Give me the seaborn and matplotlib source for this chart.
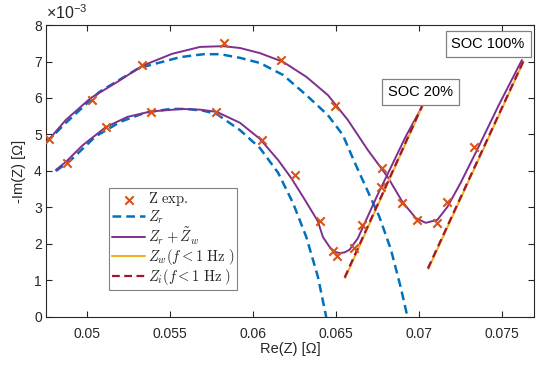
import matplotlib
matplotlib.use("Agg")
import matplotlib.pyplot as plt
import seaborn as sns

# ---------------- data (Re in Ohm, -Im in mOhm) ----------------
# measured points
exp100_re = [0.04768, 0.05027, 0.05328, 0.05822, 0.0617, 0.0649, 0.06778, 0.0690, 0.0699, 0.0711, 0.0717, 0.0733]
exp100_im = [4.87, 5.95, 6.90, 7.51, 7.04, 5.78, 4.08, 3.12, 2.66, 2.58, 3.15, 4.66]
exp20_re = [0.04874, 0.05109, 0.05381, 0.05773, 0.0605, 0.0625, 0.0640, 0.06479, 0.06503, 0.06608, 0.06657, 0.06771]
exp20_im = [4.21, 5.21, 5.63, 5.63, 4.85, 3.90, 2.63, 1.81, 1.67, 1.89, 2.52, 3.56]

# Z_r (dashed blue)
zr100_re = [0.0475, 0.0487, 0.0507, 0.0531, 0.0556, 0.0570, 0.0580, 0.0592, 0.0604, 0.0618, 0.0632, 0.0645,
            0.0654, 0.0661, 0.0668, 0.0676, 0.0683, 0.0689, 0.0693]
zr100_im = [4.77, 5.32, 6.16, 6.82, 7.12, 7.20, 7.20, 7.10, 6.96, 6.63, 6.08, 5.53,
            4.99, 4.25, 3.55, 2.75, 1.85, 0.80, 0.0]
zr20_re = [0.0481, 0.0490, 0.0505, 0.0520, 0.0535, 0.0550, 0.0560, 0.0570, 0.0578, 0.0592, 0.0604, 0.0615,
           0.0624, 0.0632, 0.0639, 0.0644]
zr20_im = [4.00, 4.30, 4.95, 5.35, 5.60, 5.70, 5.70, 5.65, 5.56, 5.12, 4.63, 3.95,
           3.12, 2.19, 1.10, 0.0]

# Z_r + Z_w fit (purple)
fit100_re = [0.0475, 0.0487, 0.0502, 0.0518, 0.0533, 0.0551, 0.0568, 0.0582, 0.0592, 0.0604, 0.0618, 0.0632,
             0.0645, 0.0657, 0.0669, 0.0681, 0.0690, 0.0698, 0.0704, 0.0711, 0.0717, 0.0725, 0.0735, 0.0748, 0.0762]
fit100_im = [4.77, 5.40, 6.00, 6.44, 6.88, 7.21, 7.40, 7.42, 7.37, 7.23, 6.99, 6.58,
             6.08, 5.40, 4.58, 3.84, 3.15, 2.71, 2.58, 2.66, 3.01, 3.67, 4.58, 5.80, 7.04]
fit20_re = [0.0481, 0.0487, 0.0497, 0.0511, 0.0524, 0.0538, 0.0557, 0.0568, 0.0578, 0.0592, 0.0604, 0.0615,
            0.0623, 0.0631, 0.0639, 0.0642, 0.0646, 0.0649, 0.0652, 0.0655, 0.0658, 0.0663, 0.0668, 0.0675,
            0.0683, 0.0692, 0.0702]
fit20_im = [4.03, 4.25, 4.70, 5.20, 5.48, 5.63, 5.70, 5.68, 5.62, 5.32, 4.88, 4.30,
            3.80, 3.22, 2.62, 2.19, 1.92, 1.79, 1.75, 1.77, 1.84, 2.15, 2.65, 3.35,
            4.10, 4.95, 5.78]

# low-frequency lines Z_w and Z_i
zw20_re = [0.06554, 0.0702]
zw20_im = [1.07, 5.78]
zw100_re = [0.07056, 0.0763]
zw100_im = [1.32, 7.00]
zi20_re = [0.06551, 0.07018]
zi20_im = [1.08, 5.78]
zi100_re = [0.07053, 0.07628]
zi100_im = [1.33, 7.00]

x_ticks = [0.05, 0.055, 0.06, 0.065, 0.07, 0.075]
x_tick_labels = ["0.05", "0.055", "0.06", "0.065", "0.07", "0.075"]
y_ticks = [0, 1, 2, 3, 4, 5, 6, 7, 8]
y_tick_labels = ["0", "1", "2", "3", "4", "5", "6", "7", "8"]

# ---------------- style ----------------
sns.set_theme(style="ticks")
plt.rcParams["font.family"] = ["Liberation Sans", "DejaVu Sans"]
plt.rcParams["mathtext.fontset"] = "cm"

C_BLUE = "#0072BD"
C_ORANGE = "#D95319"
C_YELLOW = "#EDB120"
C_PURPLE = "#7E2F8E"
C_RED = "#A2142F"
AX_COL = "#262626"

fig = plt.figure(figsize=(5.5, 3.71), dpi=100)
ax = fig.add_axes([0.0836, 0.1456, 0.8873, 0.787])

def line(xv, yv, **kw):
    sns.lineplot(x=xv, y=yv, ax=ax, sort=False, estimator=None, **kw)

dash_kw = dict(dashes=(3.5, 2.0))

# Z_r
line(zr100_re, zr100_im, color=C_BLUE, lw=1.8, label="$Z_r$", zorder=2, **dash_kw)
line(zr20_re, zr20_im, color=C_BLUE, lw=1.8, zorder=2, **dash_kw)
# fit
line(fit100_re, fit100_im, color=C_PURPLE, lw=1.4, label=r"$Z_r+\tilde{Z}_w$", zorder=3)
line(fit20_re, fit20_im, color=C_PURPLE, lw=1.4, zorder=3)
# Z_w
line(zw100_re, zw100_im, color=C_YELLOW, lw=1.5, label=r"$Z_w(f<1\ \mathrm{Hz}\ )$", zorder=4)
line(zw20_re, zw20_im, color=C_YELLOW, lw=1.5, zorder=4)
# Z_i
line(zi100_re, zi100_im, color=C_RED, lw=1.6, label=r"$Z_i(f<1\ \mathrm{Hz}\ )$", zorder=5, **dash_kw)
line(zi20_re, zi20_im, color=C_RED, lw=1.6, zorder=5, **dash_kw)
# measured
sns.scatterplot(x=exp100_re, y=exp100_im, ax=ax, marker="x", color=C_ORANGE, s=36,
                linewidth=1.5, label=r"$\mathrm{Z\ exp.}$", zorder=6)
sns.scatterplot(x=exp20_re, y=exp20_im, ax=ax, marker="x", color=C_ORANGE, s=36,
                linewidth=1.5, zorder=6)

ax.set_xlim(0.0475, 0.07693)
ax.set_ylim(0, 8)
ax.set_xticks(x_ticks)
ax.set_xticklabels(x_tick_labels)
ax.set_yticks(y_ticks)
ax.set_yticklabels(y_tick_labels)

ax.tick_params(direction="in", top=True, right=True, length=4, width=0.8,
               colors=AX_COL, labelsize=10)
ax.tick_params(axis="x", pad=7)
ax.tick_params(axis="y", pad=3)
for s in ax.spines.values():
    s.set_color(AX_COL)
    s.set_linewidth(0.8)
    s.set_visible(True)

ax.set_xlabel("Re(Z) [Ω]", fontsize=10.5, color=AX_COL, labelpad=1)
ax.set_ylabel("-Im(Z) [Ω]", fontsize=10.5, color=AX_COL, labelpad=6)
ax.text(0.0, 1.01, r"$\mathregular{\times10^{-3}}$", transform=ax.transAxes, fontsize=11.5,
        color=AX_COL, ha="left", va="bottom")

# annotations
box = dict(boxstyle="square,pad=0.4", fc="white", ec="#808080", lw=0.9)
ax.text(0.906, 0.935, "SOC 100%", transform=ax.transAxes, ha="center", va="center",
        fontsize=10.5, color="black", bbox=box, zorder=10)
ax.text(0.768, 0.771, "SOC 20%", transform=ax.transAxes, ha="center", va="center",
        fontsize=10.5, color="black", bbox=box, zorder=10)

# legend
handles, labels = ax.get_legend_handles_labels()
order = [r"$\mathrm{Z\ exp.}$", "$Z_r$", r"$Z_r+\tilde{Z}_w$",
         r"$Z_w(f<1\ \mathrm{Hz}\ )$", r"$Z_i(f<1\ \mathrm{Hz}\ )$"]
hmap = dict(zip(labels, handles))
leg = ax.legend([hmap[o] for o in order], order, loc="lower left",
                bbox_to_anchor=(0.129, 0.0925), borderaxespad=0, fontsize=10.5,
                frameon=True, fancybox=False, edgecolor="#808080", framealpha=1,
                handlelength=2.3, handletextpad=0.15, labelspacing=0.0,
                borderpad=0.2)
leg.get_frame().set_linewidth(0.8)

fig.savefig("out.png", dpi=100)
